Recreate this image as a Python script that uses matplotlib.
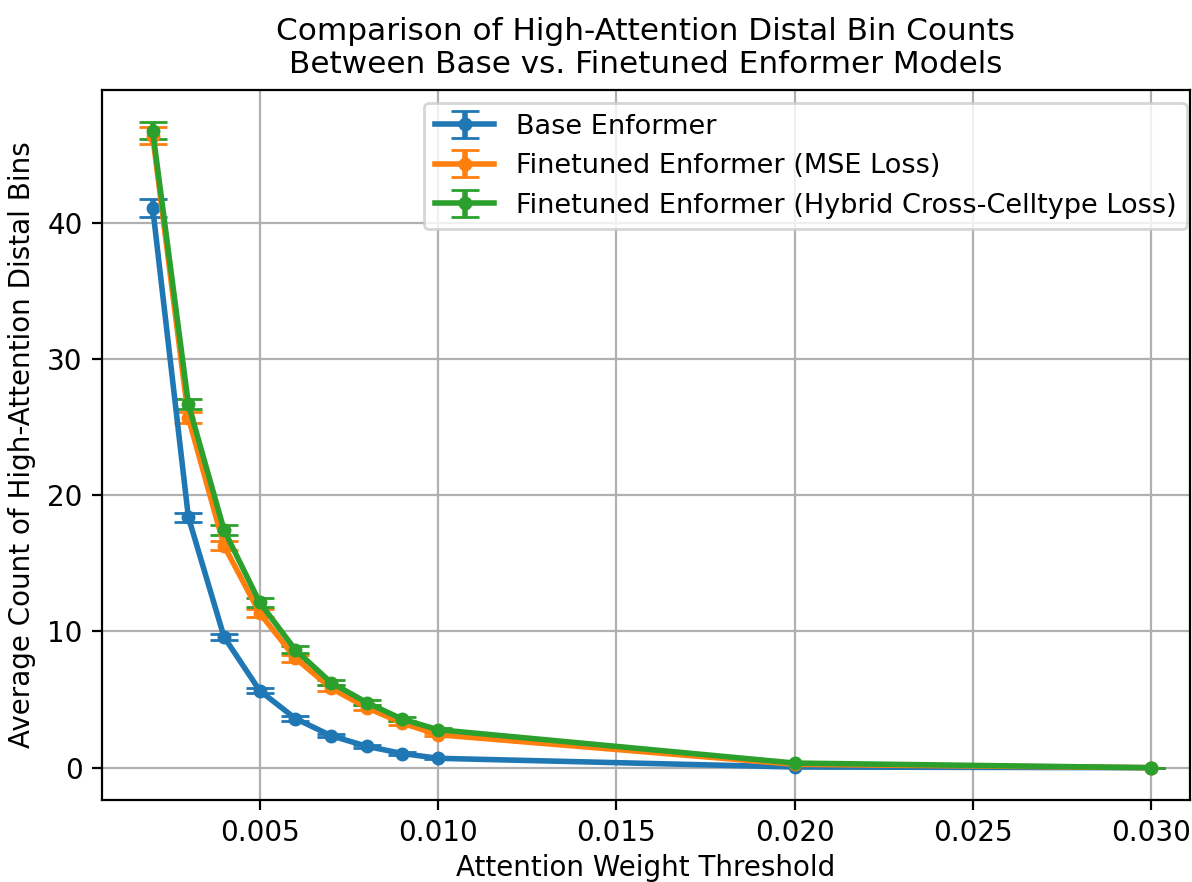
import numpy as np
import matplotlib
matplotlib.use("Agg")
import matplotlib.pyplot as plt

# attention weight thresholds
thresholds = [0.002, 0.003, 0.004, 0.005, 0.006, 0.007, 0.008, 0.009, 0.010, 0.020, 0.030]

# mean counts of high-attention distal bins
base_mean = [41.1, 18.4, 9.6, 5.66, 3.61, 2.35, 1.57, 1.04, 0.69, 0.05, 0.0]
mse_mean = [46.4, 25.7, 16.3, 11.35, 8.04, 5.84, 4.41, 3.27, 2.42, 0.25, 0.0]
hybrid_mean = [46.75, 26.7, 17.45, 12.13, 8.65, 6.25, 4.78, 3.56, 2.79, 0.34, 0.0]

# standard errors
base_err = [0.64, 0.33, 0.25, 0.2, 0.15, 0.12, 0.1, 0.08, 0.06, 0.02, 0.0]
mse_err = [0.6, 0.4, 0.35, 0.3, 0.25, 0.2, 0.18, 0.15, 0.12, 0.05, 0.0]
hybrid_err = [0.63, 0.4, 0.35, 0.3, 0.25, 0.2, 0.18, 0.15, 0.12, 0.05, 0.0]

labels = ["Base Enformer",
          "Finetuned Enformer (MSE Loss)",
          "Finetuned Enformer (Hybrid Cross-Celltype Loss)"]

fig, ax = plt.subplots(figsize=(5.96, 4.41), dpi=200)
fig.subplots_adjust(left=0.0856, right=0.998, top=0.898, bottom=0.093)

for mean, err, lab in zip([base_mean, mse_mean, hybrid_mean],
                          [base_err, mse_err, hybrid_err], labels):
    ax.errorbar(thresholds, mean, yerr=err, marker="o", markersize=4,
                linewidth=2, capsize=5, label=lab)

ax.set_xlim(0.00058, 0.03107)
ax.set_xlabel("Attention Weight Threshold", labelpad=2.5)
ax.set_ylabel("Average Count of High-Attention Distal Bins")
ax.set_title("Comparison of High-Attention Distal Bin Counts\n"
             "Between Base vs. Finetuned Enformer Models", fontsize=11.2)
ax.legend(loc="upper right", fontsize=9.75, bbox_to_anchor=(0.998, 0.982),
          borderaxespad=0, handlelength=2.2)
ax.grid(True)

plt.savefig("out.png", dpi=200)
